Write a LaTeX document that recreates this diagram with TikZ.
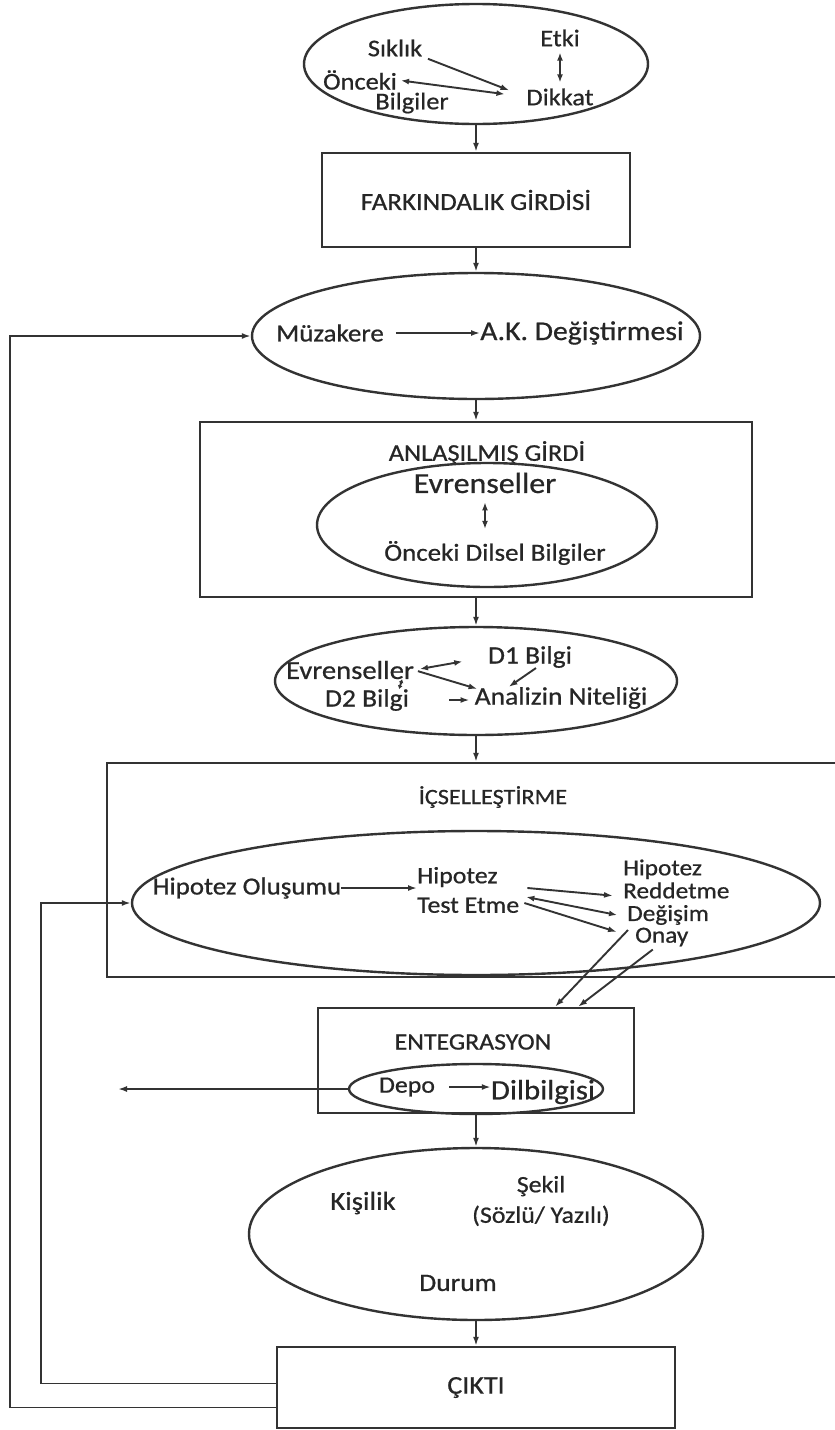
\documentclass[tikz,border=0pt]{standalone}
\usepackage{fontspec}
\setmainfont{Carlito}[FakeStretch=1.1, FakeBold=0.7]
\usepackage{tikz}
\usetikzlibrary{shapes.geometric}
\usetikzlibrary{arrows.meta}
\usetikzlibrary{positioning}

\begin{document}
\begin{tikzpicture}[x=1pt, y=-1pt,
  box/.style={draw=black!80, line width=2.4pt, rectangle, inner sep=0pt},
  oval/.style={draw=black!80, line width=2.4pt, ellipse, inner sep=0pt},
  txt/.style={inner sep=0pt, text=black!85, font=\fontsize{#1}{#1}\selectfont},
  arr/.style={draw=black!80, line width=1.9pt, -{Latex[length=9pt,width=6pt]}},
  darr/.style={draw=black!80, line width=1.9pt, {Latex[length=8pt,width=6pt]}-{Latex[length=8pt,width=6pt]}},
  sdarr/.style={draw=black!80, line width=1.9pt, {Latex[length=3.5pt,width=5pt]}-{Latex[length=3.5pt,width=5pt]}}]
\path[use as bounding box, fill=white] (0,0) rectangle (835,1430);
\clip (0,0) rectangle (835,1430);

\node[oval, minimum width=344pt, minimum height=120pt] (TopOval) at (476,64) {};
\node[txt=24] (Siklik) at (395,48) {Sıklık};
\node[txt=24] (Onceki) at (360,80) {Önceki};
\node[txt=24] (Bilgiler) at (412,103) {Bilgiler};
\node[txt=24] (Etki) at (560,38) {Etki};
\node[txt=24] (Dikkat) at (560,97) {Dikkat};
\draw[arr, shorten <=6pt, shorten >=18pt] (Siklik.south east) -- (Dikkat.west);
\draw[darr, shorten <=4pt, shorten >=22pt] (Onceki.east) -- (Dikkat.west);
\draw[darr, shorten <=6pt, shorten >=6pt] (Etki.south) -- (Dikkat.north);

\node[box, txt=24.5, minimum width=308pt, minimum height=94pt] (Farkindalik) at (476,200) {FARKINDALIK GİRDİSİ};
\draw[arr] (TopOval.south) -- (Farkindalik.north);

\node[oval, minimum width=448pt, minimum height=126pt] (MuzOval) at (476,336) {};
\node[txt=24.5] (Muzakere) at (330,333) {Müzakere};
\node[txt=27] (AKDeg) at (582,333) {A.K. Değiştirmesi};
\draw[arr, shorten <=12pt] (Muzakere.east) -- (AKDeg.west);
\draw[arr] (Farkindalik.south) -- (MuzOval.north);

\node[box, minimum width=552pt, minimum height=175pt] (Anlasilmis) at (476,509.5) {};
\node[txt=24] (AnlasilmisBaslik) at (487,453) {ANLAŞILMIŞ GİRDİ};
\node[oval, minimum width=340pt, minimum height=124pt] (AnlOval) at (487,525) {};
\node[txt=29] (Evrenseller) at (485,483) {Evrenseller};
\node[txt=24.5] (OncekiDilsel) at (495,553) {Önceki Dilsel Bilgiler};
\draw[darr, shorten <=9pt, shorten >=12pt] (Evrenseller.south) -- (Evrenseller.south |- OncekiDilsel.north);
\draw[arr] (MuzOval.south) -- (Anlasilmis.north);

\node[oval, minimum width=402pt, minimum height=108pt] (AnalizOval) at (476,681) {};
\node[txt=26] (Evrenseller2) at (350,670) {Evrenseller};
\node[txt=25] (DBir) at (530,657) {D1 Bilgi};
\node[txt=25] (DIki) at (367,700) {D2 Bilgi};
\node[txt=25] (Analiz) at (561,698) {Analizin Niteliği};
\draw[darr, shorten <=6pt, shorten >=26pt] (Evrenseller2.east) -- (DBir.west);
\draw[arr, shorten <=4pt] (Evrenseller2.east) -- ([xshift=3pt, yshift=-2pt]Analiz.north west);
\draw[arr] ([xshift=6pt]DBir.south) -- ([xshift=34pt]Analiz.north west);
\draw[arr, shorten <=40pt, shorten >=5pt] (DIki.east) -- (DIki.east -| Analiz.west);
\draw[sdarr] ([xshift=-12pt]Evrenseller2.south east) -- ([xshift=-10pt]DIki.north east);
\draw[arr] (Anlasilmis.south) -- (AnalizOval.north);

\node[box, minimum width=738pt, minimum height=214pt] (Icsel) at (476,870) {};
\node[txt=22] (IcselBaslik) at (493,797) {İÇSELLEŞTİRME};
\node[oval, minimum width=688pt, minimum height=144pt] (IcselOval) at (476,903) {};
\node[txt=24.5] (HipOlusum) at (247,888) {Hipotez Oluşumu};
\node[txt=23.5, align=left, anchor=west] (HipTest) at (417,890) {Hipotez\\[6pt]Test Etme};
\node[txt=23, align=left, anchor=west] (HipRed) at (623,879) {Hipotez\\Reddetme};
\node[txt=23, anchor=west] (Degisim) at (627,915) {Değişim};
\node[txt=23, anchor=west] (Onay) at (635,937) {Onay};
\draw[arr] (HipOlusum.east) -- (HipOlusum.east -| HipTest.west);
\draw[arr] ([xshift=8pt, yshift=2pt]HipTest.east) -- ([xshift=-10pt, yshift=3pt]HipRed.south west);
\draw[darr] ([xshift=7pt, yshift=-7pt]HipTest.east) -- ([xshift=-10pt]Degisim.west);
\draw[arr] ([xshift=5pt, yshift=-13pt]HipTest.east) -- ([xshift=-18pt, yshift=5pt]Onay.west);
\draw[arr] (AnalizOval.south) -- (Icsel.north);

\node[box, minimum width=316pt, minimum height=105pt] (Entegrasyon) at (476,1060.5) {};
\node[txt=23.5] (EntBaslik) at (473,1042) {ENTEGRASYON};
\node[oval, minimum width=254pt, minimum height=50pt] (DepoOval) at (476,1089) {};
\node[txt=23.5] (Depo) at (407,1087) {Depo};
\node[txt=28] (Dilbilgisi) at (543,1092) {Dilbilgisi};
\draw[arr, shorten <=14pt] (Depo.east) -- (Depo.east -| Dilbilgisi.west);
\coordinate (DepoUc) at (118,1089);
\draw[arr] (DepoOval.west) -- (DepoUc);
\draw[arr] ([xshift=-7pt, yshift=7pt]Onay.west) -- ([xshift=79pt]Entegrasyon.north);
\draw[arr] ([xshift=-9pt, yshift=-3pt]Onay.south) -- ([xshift=102pt]Entegrasyon.north);

\node[oval, minimum width=454pt, minimum height=172pt] (SekilOval) at (476,1234) {};
\node[txt=26] (Kisilik) at (363,1203) {Kişilik};
\node[txt=23.5, align=center] (Sekil) at (541,1201) {Şekil\\[7pt](Sözlü/ Yazılı)};
\node[txt=25] (Durum) at (458,1283) {Durum};
\draw[arr] (Entegrasyon.south) -- (SekilOval.north);

\node[box, txt=25.5, minimum width=398pt, minimum height=81pt] (Cikti) at (476,1387.5) {ÇIKTI};
\draw[arr] (SekilOval.south) -- (Cikti.north);
\draw[arr] ([yshift=4pt]Cikti.west) -- ++(-235,0) |- (IcselOval.west);
\draw[arr] ([yshift=-20pt]Cikti.west) -- ++(-266,0) |- (MuzOval.west);
\end{tikzpicture}
\end{document}
